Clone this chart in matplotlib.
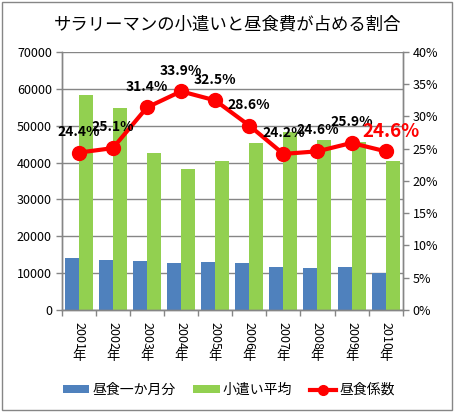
import matplotlib
matplotlib.use('Agg')
import matplotlib.pyplot as plt
import numpy as np
from matplotlib.patches import Patch, Rectangle
from matplotlib.lines import Line2D

plt.rcParams['font.family'] = ['Noto Sans CJK JP', 'DejaVu Sans']

# ---- data ----
years = ['2001', '2002', '2003', '2004', '2005', '2006', '2007', '2008', '2009', '2010']
year_suffix = '年'
lunch = [14200, 13700, 13300, 12800, 13100, 12800, 11700, 11300, 11700, 10000]
allowance = [58300, 54800, 42600, 38300, 40400, 45300, 48300, 46200, 45600, 40500]
ratio = [24.4, 25.1, 31.4, 33.9, 32.5, 28.6, 24.2, 24.6, 25.9, 24.6]
left_ticks = [0, 10000, 20000, 30000, 40000, 50000, 60000, 70000]
right_ticks = [0, 5, 10, 15, 20, 25, 30, 35, 40]
title = 'サラリーマンの小遣いと昼食費が占める割合'
series_names = ['昼食一か月分', '小遣い平均', '昼食係数']

BLUE = '#4F81BD'
GREEN = '#92D050'
RED = '#FF0000'
GREY = '#868686'

W, H = 455, 413
fig = plt.figure(figsize=(W / 100, H / 100), dpi=100)
fig.patch.set_facecolor('white')

# outer chart border
fig.add_artist(Rectangle((2 / W, 3 / H), 450 / W, 408 / H, transform=fig.transFigure,
                         fill=False, edgecolor=GREY, lw=1.0))

fig.text(0.5, 1 - 25 / H, title, ha='center', va='center', fontsize=12.5, color='black')

L, R, T, B = 61.7, 402.7, 52, 310
ax = fig.add_axes([L / W, 1 - B / H, (R - L) / W, (B - T) / H])
x = np.arange(len(years))
w = 0.41
ax.bar(x - w / 2, lunch, w, color=BLUE, zorder=2)
ax.bar(x + w / 2, allowance, w, color=GREEN, zorder=2)
ax.set_xlim(-0.5, len(years) - 0.5)
ax.set_ylim(left_ticks[0], left_ticks[-1])
ax.set_yticks(left_ticks)
ax.set_yticklabels([str(v) for v in left_ticks])
ax.yaxis.grid(True, color=GREY, lw=1.0, zorder=0)
ax.set_axisbelow(True)
ax.set_xticks(x)
ax.set_xticklabels([])
ax.set_xticks(np.arange(len(years) + 1) - 0.5, minor=True)
ax.tick_params(axis='x', which='major', length=0)
ax.tick_params(axis='x', which='minor', length=4, color=GREY, width=1, direction='out')
ax.tick_params(axis='y', length=4, color=GREY, width=1, labelsize=9, pad=3, direction='out')
for s in ['left', 'bottom', 'right']:
    ax.spines[s].set_color(GREY)
    ax.spines[s].set_linewidth(1.0)
ax.spines['top'].set_visible(False)

# x labels: digits rotated, 年 upright
for i, yr in enumerate(years):
    ax.annotate(yr, xy=(i, 0), xycoords=('data', 'axes fraction'), xytext=(0, -9),
                textcoords='offset points', rotation=-90, ha='center', va='top', fontsize=9)
    ax.annotate(year_suffix, xy=(i, 0), xycoords=('data', 'axes fraction'), xytext=(0, -28.5),
                textcoords='offset points', ha='center', va='top', fontsize=9.5)

ax2 = ax.twinx()
ax2.plot(x, ratio, color=RED, lw=3, marker='o', markersize=10, zorder=5)
ax2.set_ylim(right_ticks[0], right_ticks[-1])
ax2.set_yticks(right_ticks)
ax2.set_yticklabels([f'{v}%' for v in right_ticks])
ax2.tick_params(axis='y', length=4, color=GREY, width=1, labelsize=9, pad=3, direction='out')
for s in ['left', 'bottom', 'right']:
    ax2.spines[s].set_color(GREY)
    ax2.spines[s].set_linewidth(1.0)
ax2.spines['top'].set_visible(False)

for i, v in enumerate(ratio):
    if i == len(ratio) - 1:
        ax2.annotate(f'{v}%', xy=(i, v), xytext=(4, 14.5), textcoords='offset points',
                     ha='center', va='center', fontsize=13.5, fontweight='bold', color=RED, zorder=6)
    else:
        ax2.annotate(f'{v}%', xy=(i, v), xytext=(0, 15), textcoords='offset points',
                     ha='center', va='center', fontsize=10, fontweight='bold', color='black', zorder=6)

handles = [Patch(facecolor=BLUE, edgecolor='none'),
           Patch(facecolor=GREEN, edgecolor='none'),
           Line2D([0], [0], color=RED, lw=3, marker='o', markersize=7)]
fig.legend(handles, series_names, loc='center', bbox_to_anchor=(0.503, 1 - 390 / H), ncol=3,
           frameon=False, fontsize=10, handlelength=1.9, handleheight=0.5, handletextpad=0.2,
           columnspacing=1.3, borderaxespad=0, borderpad=0)

fig.savefig('out.png', dpi=100, facecolor='white')
